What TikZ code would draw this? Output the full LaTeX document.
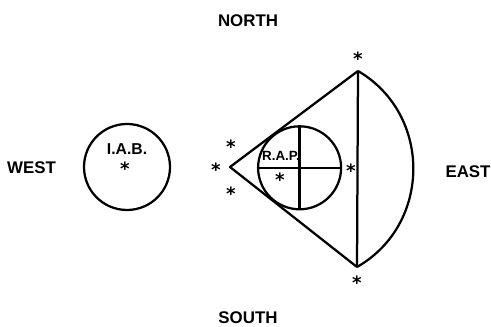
\documentclass[tikz,border=0pt]{standalone}
\usepackage{fontspec}
\setmainfont{Liberation Sans}
\newfontfamily\starfont{DejaVu Sans Bold}
\tikzset{
  compasslabel/.style={font=\fontsize{12}{12}\selectfont\bfseries,inner sep=0pt},
  sitelabel/.style={font=\fontsize{11.2}{12}\selectfont\bfseries,inner sep=0pt},
  ringnode/.style={draw,circle,line width=1.6pt,inner sep=0pt},
  starmark/.style={font=\fontsize{13}{13}\starfont,inner sep=0pt,text height=13.5pt,text depth=0pt},
  sectorline/.style={line width=1.6pt,line join=round}
}
\begin{document}
\begin{tikzpicture}
    \useasboundingbox (0,0) rectangle (12.275,8.175);
    % compass labels
    \node[compasslabel] (north) at (6.2,7.65) {NORTH};
    \node[compasslabel] (south) at (6.2,0.225) {SOUTH};
    \node[compasslabel] (west) at (0.79,3.975) {WEST};
    \node[compasslabel] (east) at (11.7,3.875) {EAST};
    % left circle
    \node[ringnode,minimum size=2.15cm] (iab) at (3.175,4.0) {};
    \node[sitelabel] (iablabel) at (3.175,4.45) {I.A.B.};
    \node[starmark] (iabstar) at (3.125,4.025) {*};
    % sector
    \coordinate (apex) at (5.75,4.0);
    \coordinate (top) at (8.95,6.4);
    \coordinate (bottom) at (8.925,1.5);
    \draw[sectorline] (top) -- (apex) -- (bottom);
    \draw[sectorline] (top) -- (bottom);
    \draw[sectorline] (top) to[bend left=60,looseness=1.12] (bottom);
    % inner circle
    \node[ringnode,minimum size=2.075cm] (rap) at (7.49,3.98) {};
    \draw[sectorline] (rap.west) -- (rap.east);
    \draw[sectorline] (rap.north) -- (rap.south);
    \node[sitelabel,font=\fontsize{9.5}{10}\selectfont\bfseries] (raplabel) at (7.025,4.275) {R.A.P.};
    % markers
    \node[starmark] (startop) at (8.95,6.775) {*};
    \node[starmark] (starbottom) at (8.925,1.175) {*};
    \node[starmark] (starwest) at (5.4,4.0) {*};
    \node[starmark] (starupper) at (5.775,4.575) {*};
    \node[starmark] (starlower) at (5.775,3.4) {*};
    \node[starmark] (starrap) at (7.0,3.75) {*};
    \node[starmark] (stareast) at (8.775,3.975) {*};
\end{tikzpicture}
\end{document}
